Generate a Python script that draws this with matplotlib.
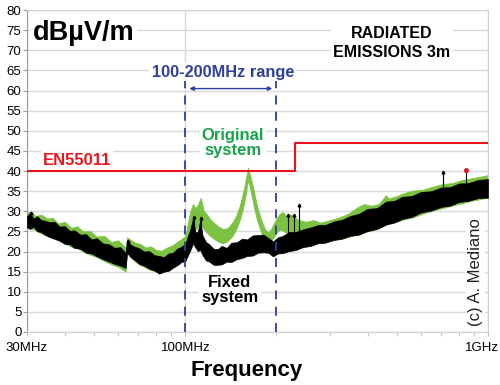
import matplotlib
matplotlib.use('Agg')
import matplotlib.pyplot as plt
import matplotlib.transforms as mtransforms
from matplotlib.ticker import NullFormatter

plt.rcParams['font.family'] = ['Liberation Sans', 'DejaVu Sans']

# Fixed system trace: frequency (MHz), lower and upper edge of the noise band (dBuV/m)
fixed_freq = [30, 30.7, 31.5, 32.4, 33.3, 34.5, 35.6, 37, 38.4, 40, 41.5, 43, 45, 47, 49, 51,
              53.5, 56, 58.5, 61, 63.5, 64.2, 66, 68, 70.5, 73, 76, 79, 82, 85, 88, 91, 94, 97,
              100, 102, 104, 106, 108, 110, 112, 114, 117, 120, 124, 128, 132, 137, 142, 148,
              154, 160, 167, 174, 181, 188, 195, 202, 210, 220, 232, 245, 260, 275, 290, 310,
              330, 350, 375, 400, 430, 460, 490, 520, 560, 600, 650, 700, 750, 800, 860, 930, 1000]
fixed_lo = [26.0, 25.6, 26.2, 25.0, 24.9, 24.1, 23.6, 23.2, 22.7, 21.9, 21.8, 20.9, 20.7, 19.7,
            19.5, 18.8, 18.1, 17.5, 16.9, 16.5, 15.9, 19.7, 18.6, 17.9, 16.9, 16.5, 15.7, 15.3,
            14.5, 15.0, 15.2, 16.0, 16.6, 17.4, 17.6, 19.0, 20.4, 22.0, 21.0, 20.1, 20.4, 19.1,
            17.8, 17.5, 16.7, 16.7, 16.8, 17.5, 17.4, 18.1, 18.4, 18.9, 19.0, 19.7, 19.8, 19.7,
            18.8, 19.5, 19.6, 20.1, 20.4, 21.1, 21.4, 22.1, 22.2, 22.9, 23.2, 23.9, 24.2, 25.1,
            25.6, 26.7, 27.2, 28.1, 28.6, 29.7, 30.2, 31.1, 31.4, 32.3, 32.6, 33.3, 33.4]
fixed_hi = [28.8, 29.5, 28.2, 28.8, 27.9, 27.6, 27.3, 27.4, 26.2, 26.3, 25.1, 25.3, 24.2, 24.3,
            23.0, 23.3, 22.0, 21.8, 20.9, 21.1, 19.6, 22.8, 21.7, 21.2, 20.8, 20.0, 20.1, 19.1,
            18.9, 18.6, 19.5, 19.7, 20.7, 21.2, 21.9, 23.8, 25.6, 28.2, 24.8, 24.9, 27.8, 24.0,
            22.4, 21.8, 20.7, 20.6, 21.4, 20.9, 22.2, 22.3, 23.2, 23.0, 24.0, 24.1, 24.2, 23.4,
            22.5, 23.5, 23.9, 24.8, 24.9, 25.5, 26.0, 26.6, 26.6, 27.5, 27.9, 28.8, 29.4, 30.6,
            30.8, 32.4, 32.6, 33.6, 33.8, 34.8, 35.0, 35.9, 36.0, 36.9, 37.0, 37.8, 38.0]

# Original system trace
orig_freq = [30, 31, 32, 33.5, 35, 36.5, 38, 40, 42, 44, 46, 48.5, 51, 54, 57, 60, 63.5, 64.2,
             66, 68.5, 71, 74, 77, 80, 83.5, 87, 90.5, 94, 97, 100, 102, 104, 106, 108, 110,
             112.5, 115, 118, 121, 125, 129, 133, 138, 143, 147, 151, 154, 157, 159.5, 161, 163,
             166, 169, 172, 176, 180, 184, 188, 192, 196, 200, 205, 210, 216, 224, 235, 250,
             265, 280, 300, 320, 345, 370, 390, 410, 435, 460, 470, 500, 530, 570, 610, 660,
             710, 760, 820, 880, 940, 1000]
orig_lo = [26.2, 25.6, 25.4, 24.4, 24.0, 23.2, 22.8, 22.0, 21.2, 20.8, 20.0, 19.2, 18.6, 17.6,
           16.8, 16.2, 15.0, 19.8, 18.6, 17.4, 16.6, 16.0, 15.4, 15.0, 14.8, 15.2, 15.8, 16.6,
           17.4, 18.4, 21.0, 23.4, 25.6, 25.4, 26.0, 26.6, 25.6, 24.6, 23.8, 23.0, 22.4, 22.0,
           22.6, 23.8, 25.4, 27.6, 29.8, 32.6, 35.6, 37.6, 36.4, 33.4, 30.6, 28.2, 25.8, 23.8,
           22.6, 22.2, 22.6, 23.6, 24.6, 25.4, 25.2, 24.6, 23.8, 22.8, 22.0, 21.8, 22.2, 22.6,
           23.0, 23.6, 24.2, 24.8, 25.2, 25.8, 26.6, 27.0, 27.4, 28.0, 28.6, 29.4, 30.2, 30.8,
           31.4, 32.0, 32.6, 33.0, 33.4]
orig_hi = [29.6, 30.0, 28.8, 29.2, 28.2, 28.4, 27.0, 27.4, 25.9, 26.3, 25.0, 25.1, 23.7, 23.9,
           22.4, 22.8, 21.0, 23.5, 22.9, 22.2, 21.9, 21.0, 21.3, 20.4, 20.2, 21.0, 21.5, 22.4,
           23.1, 23.8, 27.2, 30.2, 31.8, 30.8, 31.6, 33.4, 30.2, 29.2, 28.0, 27.0, 26.2, 25.6,
           25.8, 27.2, 28.8, 31.2, 33.6, 36.4, 39.2, 40.9, 39.6, 37.2, 34.6, 31.8, 29.2, 27.0,
           25.4, 24.8, 25.6, 27.0, 28.2, 29.4, 29.8, 28.8, 29.2, 28.0, 27.4, 27.8, 27.2, 27.8,
           28.4, 29.4, 31.0, 31.8, 31.4, 31.8, 34.0, 33.2, 33.8, 34.6, 35.2, 35.4, 36.2, 36.8,
           37.0, 37.8, 38.2, 38.6, 39.0]

# isolated peaks sticking out of the fixed trace
spike_freq = [31, 64.5, 107, 113, 218, 229, 238, 708, 849]
spike_base = [27.0, 19.5, 24.0, 23.5, 23.0, 23.5, 24.0, 31.5, 33.0]
spike_top = [29.6, 22.5, 28.6, 28.4, 29.0, 29.2, 31.6, 39.8, 40.3]

# EN55011 limit line
limit_freq = [30, 230, 230, 1000]
limit_level = [40, 40, 47, 47]

band_freq = [100, 200]
yticks = list(range(0, 85, 5))
xticks = [30, 100, 1000]
xtick_labels = ['30MHz', '100MHz', '1GHz']

BLUE = '#2e3f9c'
GREEN_TRACE = '#7cc242'
GREEN_TEXT = '#16a34a'
RED = '#e8161b'

fig = plt.figure(figsize=(5, 3.85), dpi=100)
ax = fig.add_axes([0.054, 0.1377, 0.922, 0.836])
ax.set_xscale('log')
ax.set_xlim(30, 1000)
ax.set_ylim(0, 80)

ax.set_yticks(yticks)
ax.set_xticks(xticks)
ax.set_xticklabels(xtick_labels)
ax.set_xticks([40, 50, 60, 70, 80, 90, 200, 300, 400, 500, 600, 700, 800, 900], minor=True)
ax.xaxis.set_minor_formatter(NullFormatter())
ax.tick_params(axis='y', labelsize=9.5, length=3, color='#999999', pad=1)
ax.tick_params(axis='x', which='major', labelsize=9.5, length=3, color='#bbbbbb', pad=4)
ax.tick_params(axis='x', which='minor', length=3, color='#bbbbbb')
# last label sits a bit left so it stays inside the picture
last = ax.get_xticklabels()[-1]
last.set_transform(last.get_transform() + mtransforms.ScaledTranslation(-4.3 / 72, 0, fig.dpi_scale_trans))
ax.grid(True, axis='y', color='#d9d9d9', lw=1)
ax.grid(True, axis='x', which='major', color='#d9d9d9', lw=1)
ax.set_axisbelow(True)
for side in ['top', 'right', 'bottom']:
    ax.spines[side].set_color('#d0d0d0')
ax.spines['left'].set_color('#999999')

# traces
ax.fill_between(orig_freq, orig_lo, orig_hi, color=GREEN_TRACE, lw=0.5, zorder=2)
ax.fill_between(fixed_freq, fixed_lo, fixed_hi, color='black', lw=0.5, zorder=3)
ax.vlines(spike_freq, spike_base, spike_top, color='black', lw=0.8, zorder=3)
ax.plot(spike_freq, spike_top, '^', color='black', ms=2, zorder=3)
ax.plot(spike_freq[-1], spike_top[-1], 'o', color=RED, ms=2.5, zorder=4)

# limit
ax.plot(limit_freq, limit_level, color=RED, lw=1.5, zorder=4)

# 100-200 MHz band
ax.vlines(band_freq, 0, 62.5, color=BLUE, lw=1.3, linestyles=(0, (5, 4)), zorder=5)
ax.annotate('', xy=(band_freq[0] * 1.01, 60.5), xytext=(band_freq[1] * 0.99, 60.5),
            arrowprops=dict(arrowstyle='<|-|>', color=BLUE, lw=1, mutation_scale=6), zorder=5)

box = dict(facecolor='white', edgecolor='none', pad=1.5)
ax.text(31.4, 74.3, 'dBµV/m', fontsize=19.5, fontweight='bold', ha='left', va='center', bbox=box)
ax.text(133, 64.6, '100-200MHz range', fontsize=11.8, fontweight='bold', color=BLUE,
        ha='center', va='center', bbox=box)
ax.text(482, 71.8, 'RADIATED\nEMISSIONS 3m', fontsize=11.5, fontweight='bold', ha='center',
        va='center', linespacing=1.3, bbox=box)
ax.text(43.9, 42.7, 'EN55011', fontsize=12, fontweight='bold', color=RED, ha='center',
        va='center', bbox=box)
ax.text(143.8, 47, 'Original\nsystem', fontsize=12, fontweight='bold', color=GREEN_TEXT,
        ha='center', va='center', linespacing=1.05, bbox=box, zorder=6)
ax.text(140.5, 10.4, 'Fixed\nsystem', fontsize=12, fontweight='bold', ha='center',
        va='center', linespacing=1.05, bbox=box, zorder=6)
ax.text(906, 14.9, '(c) A. Mediano', fontsize=12, rotation=90, ha='center', va='center',
        color='#222222', bbox=box, zorder=6)

fig.text(0.494, 0.038, 'Frequency', fontsize=16, fontweight='bold', ha='center', va='center')

fig.savefig('out.png', dpi=100)
